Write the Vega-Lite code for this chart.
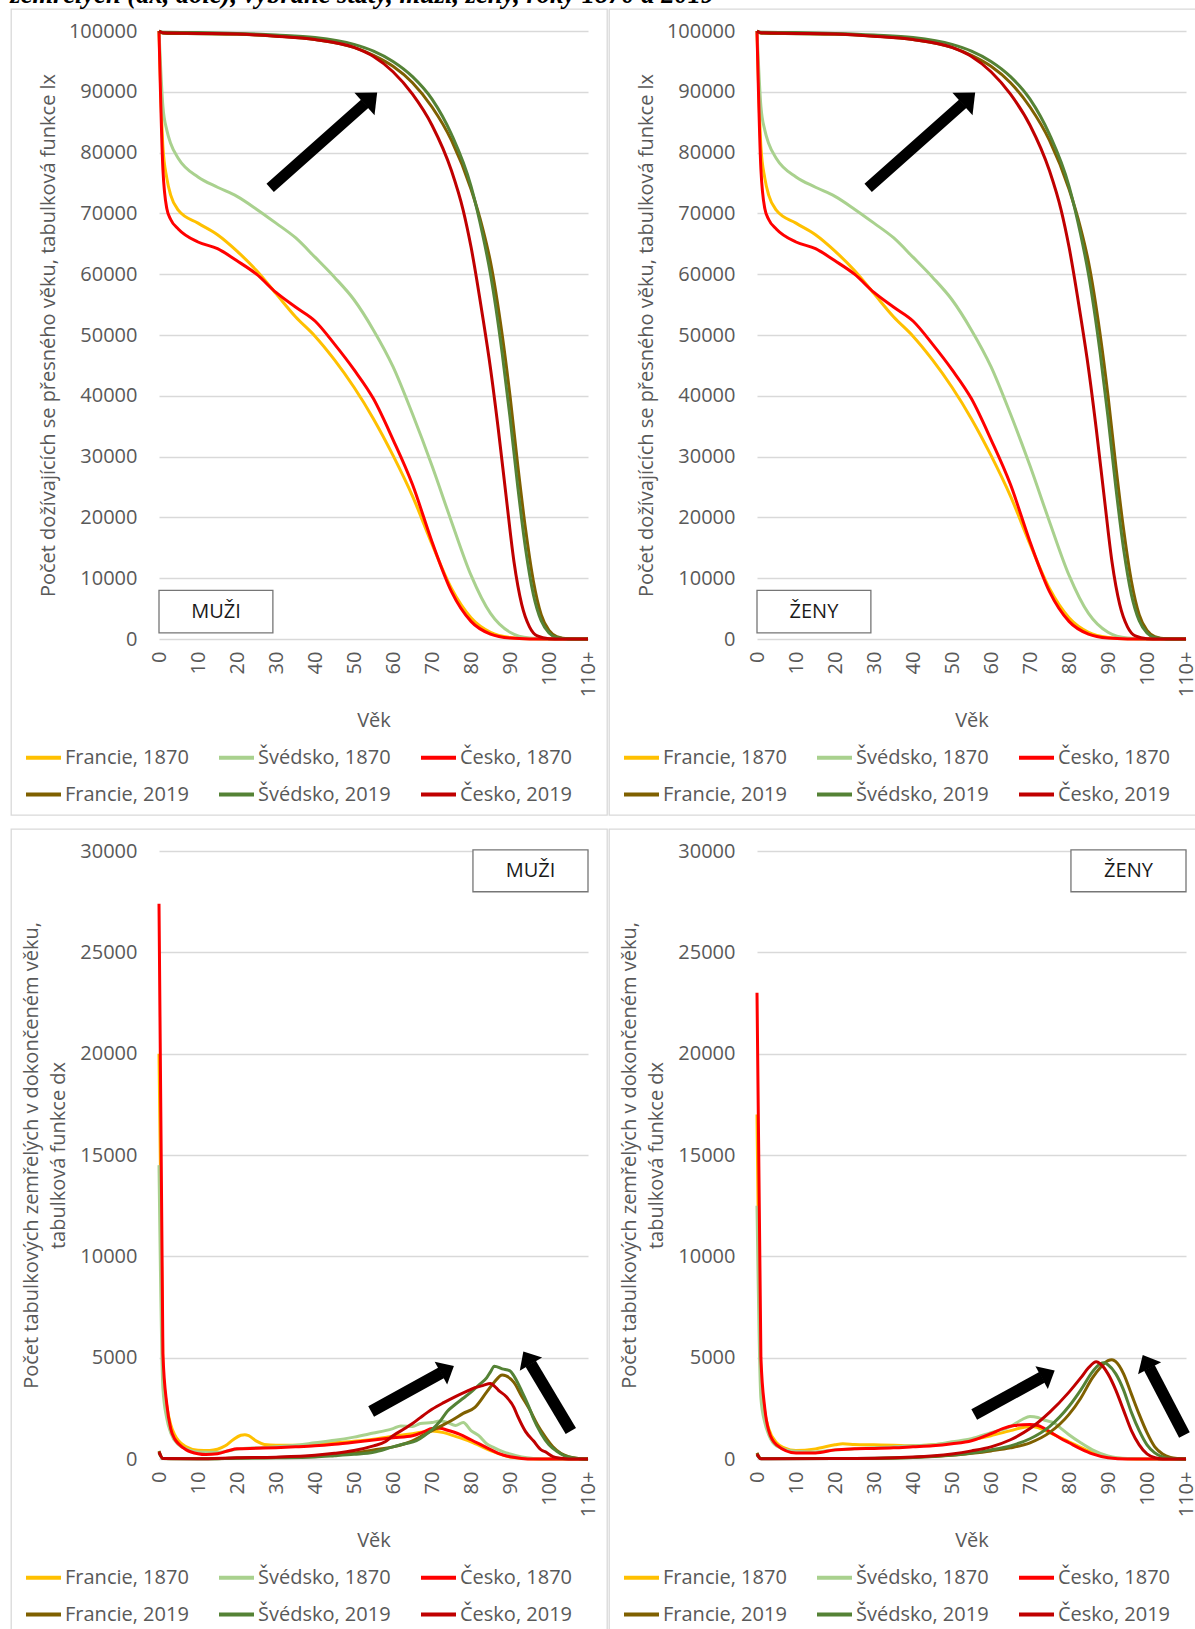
{
"$schema": "https://vega.github.io/schema/vega-lite/v6.json",
"padding": {"left": 10, "top": -18, "right": -2, "bottom": -2},
"title": {"text": "zemřelých (dx, dole), vybrané státy, muži, ženy, roky 1870 a 2019", "anchor": "start", "font": "Liberation Serif", "fontSize": 26.5, "fontStyle": "italic", "fontWeight": "bold", "color": "#000000", "offset": -21.5, "baseline": "alphabetic"},
"config": {
  "font": "Open Sans",
  "view": {"stroke": "#d9d9d9", "strokeWidth": 1.3},
  "axis": {"labelFont": "Open Sans", "labelFontSize": 20, "labelColor": "#595959", "titleFont": "Open Sans", "titleFontSize": 20, "titleColor": "#595959", "titleFontWeight": "normal", "ticks": false, "domain": false, "labelOverlap": false, "labelBound": false, "labelFlush": false},
  "axisX": {"grid": false, "labelAngle": 270, "labelPadding": 12, "titleBaseline": "middle"},
  "axisY": {"grid": true, "gridColor": "#d9d9d9", "gridWidth": 1.3, "labelPadding": 22, "format": "d", "titleBaseline": "middle", "titleLineHeight": 27},
  "legend": {"columns": 3, "symbolType": "stroke", "symbolSize": 1225, "symbolStrokeWidth": 4, "labelFont": "Open Sans", "labelFontSize": 20, "labelColor": "#595959", "labelOffset": 2, "columnPadding": 22, "rowPadding": 7, "padding": 0, "labelLimit": 400}
},
"datasets": {
"lx": [
{"s":"Francie, 1870","age":0,"v":100000},{"s":"Francie, 1870","age":1,"v":81000},{"s":"Francie, 1870","age":2,"v":75800},{"s":"Francie, 1870","age":3,"v":73000},{"s":"Francie, 1870","age":5,"v":70500},{"s":"Francie, 1870","age":10,"v":68400},{"s":"Francie, 1870","age":15,"v":66500},{"s":"Francie, 1870","age":20,"v":63800},{"s":"Francie, 1870","age":25,"v":60600},{"s":"Francie, 1870","age":30,"v":56800},{"s":"Francie, 1870","age":35,"v":53000},{"s":"Francie, 1870","age":40,"v":49800},{"s":"Francie, 1870","age":45,"v":45900},{"s":"Francie, 1870","age":50,"v":41400},{"s":"Francie, 1870","age":55,"v":36200},{"s":"Francie, 1870","age":60,"v":30200},{"s":"Francie, 1870","age":65,"v":23500},{"s":"Francie, 1870","age":70,"v":15600},{"s":"Francie, 1870","age":75,"v":8300},{"s":"Francie, 1870","age":80,"v":3500},{"s":"Francie, 1870","age":85,"v":1100},{"s":"Francie, 1870","age":90,"v":250},{"s":"Francie, 1870","age":95,"v":30},{"s":"Francie, 1870","age":100,"v":0},{"s":"Francie, 1870","age":110,"v":0},
{"s":"Švédsko, 1870","age":0,"v":100000},{"s":"Švédsko, 1870","age":1,"v":87600},{"s":"Švédsko, 1870","age":2,"v":83700},{"s":"Švédsko, 1870","age":3,"v":81500},{"s":"Švédsko, 1870","age":5,"v":79000},{"s":"Švédsko, 1870","age":10,"v":76000},{"s":"Švédsko, 1870","age":15,"v":74300},{"s":"Švédsko, 1870","age":20,"v":72800},{"s":"Švédsko, 1870","age":25,"v":70700},{"s":"Švédsko, 1870","age":30,"v":68400},{"s":"Švédsko, 1870","age":35,"v":66000},{"s":"Švédsko, 1870","age":40,"v":62800},{"s":"Švédsko, 1870","age":45,"v":59500},{"s":"Švédsko, 1870","age":50,"v":55800},{"s":"Švédsko, 1870","age":55,"v":50800},{"s":"Švédsko, 1870","age":60,"v":44800},{"s":"Švédsko, 1870","age":65,"v":37000},{"s":"Švédsko, 1870","age":70,"v":28500},{"s":"Švédsko, 1870","age":75,"v":19300},{"s":"Švédsko, 1870","age":80,"v":10500},{"s":"Švédsko, 1870","age":85,"v":4200},{"s":"Švédsko, 1870","age":90,"v":1100},{"s":"Švédsko, 1870","age":95,"v":150},{"s":"Švédsko, 1870","age":100,"v":0},{"s":"Švédsko, 1870","age":110,"v":0},
{"s":"Česko, 1870","age":0,"v":100000},{"s":"Česko, 1870","age":1,"v":77300},{"s":"Česko, 1870","age":2,"v":70800},{"s":"Česko, 1870","age":3,"v":69000},{"s":"Česko, 1870","age":5,"v":67400},{"s":"Česko, 1870","age":10,"v":65300},{"s":"Česko, 1870","age":15,"v":64200},{"s":"Česko, 1870","age":20,"v":62200},{"s":"Česko, 1870","age":25,"v":60000},{"s":"Česko, 1870","age":30,"v":57000},{"s":"Česko, 1870","age":35,"v":54600},{"s":"Česko, 1870","age":40,"v":52300},{"s":"Česko, 1870","age":45,"v":48500},{"s":"Česko, 1870","age":50,"v":44300},{"s":"Česko, 1870","age":55,"v":39500},{"s":"Česko, 1870","age":60,"v":32800},{"s":"Česko, 1870","age":65,"v":25400},{"s":"Česko, 1870","age":70,"v":16000},{"s":"Česko, 1870","age":75,"v":7800},{"s":"Česko, 1870","age":80,"v":2900},{"s":"Česko, 1870","age":85,"v":800},{"s":"Česko, 1870","age":90,"v":150},{"s":"Česko, 1870","age":95,"v":10},{"s":"Česko, 1870","age":100,"v":0},{"s":"Česko, 1870","age":110,"v":0},
{"s":"Francie, 2019","age":0,"v":100000},{"s":"Francie, 2019","age":1,"v":99650},{"s":"Francie, 2019","age":10,"v":99550},{"s":"Francie, 2019","age":20,"v":99450},{"s":"Francie, 2019","age":30,"v":99150},{"s":"Francie, 2019","age":40,"v":98600},{"s":"Francie, 2019","age":50,"v":97300},{"s":"Francie, 2019","age":55,"v":96000},{"s":"Francie, 2019","age":60,"v":94200},{"s":"Francie, 2019","age":65,"v":91500},{"s":"Francie, 2019","age":70,"v":87500},{"s":"Francie, 2019","age":75,"v":82000},{"s":"Francie, 2019","age":80,"v":74000},{"s":"Francie, 2019","age":83,"v":67500},{"s":"Francie, 2019","age":85,"v":62000},{"s":"Francie, 2019","age":88,"v":50000},{"s":"Francie, 2019","age":90,"v":40000},{"s":"Francie, 2019","age":92,"v":28500},{"s":"Francie, 2019","age":94,"v":18000},{"s":"Francie, 2019","age":96,"v":9500},{"s":"Francie, 2019","age":98,"v":4000},{"s":"Francie, 2019","age":100,"v":1400},{"s":"Francie, 2019","age":102,"v":400},{"s":"Francie, 2019","age":105,"v":50},{"s":"Francie, 2019","age":110,"v":0},
{"s":"Švédsko, 2019","age":0,"v":100000},{"s":"Švédsko, 2019","age":1,"v":99800},{"s":"Švédsko, 2019","age":10,"v":99750},{"s":"Švédsko, 2019","age":20,"v":99600},{"s":"Švédsko, 2019","age":30,"v":99350},{"s":"Švédsko, 2019","age":40,"v":98950},{"s":"Švédsko, 2019","age":50,"v":97800},{"s":"Švédsko, 2019","age":55,"v":96700},{"s":"Švédsko, 2019","age":60,"v":95000},{"s":"Švédsko, 2019","age":65,"v":92500},{"s":"Švédsko, 2019","age":70,"v":88800},{"s":"Švédsko, 2019","age":75,"v":83000},{"s":"Švédsko, 2019","age":80,"v":74500},{"s":"Švédsko, 2019","age":83,"v":66500},{"s":"Švédsko, 2019","age":85,"v":60000},{"s":"Švédsko, 2019","age":88,"v":47000},{"s":"Švédsko, 2019","age":90,"v":36500},{"s":"Švédsko, 2019","age":92,"v":25000},{"s":"Švédsko, 2019","age":94,"v":14800},{"s":"Švédsko, 2019","age":96,"v":7300},{"s":"Švédsko, 2019","age":98,"v":3000},{"s":"Švédsko, 2019","age":100,"v":1000},{"s":"Švédsko, 2019","age":102,"v":250},{"s":"Švédsko, 2019","age":105,"v":20},{"s":"Švédsko, 2019","age":110,"v":0},
{"s":"Česko, 2019","age":0,"v":100000},{"s":"Česko, 2019","age":1,"v":99700},{"s":"Česko, 2019","age":10,"v":99600},{"s":"Česko, 2019","age":20,"v":99500},{"s":"Česko, 2019","age":30,"v":99150},{"s":"Česko, 2019","age":40,"v":98600},{"s":"Česko, 2019","age":50,"v":97300},{"s":"Česko, 2019","age":55,"v":95800},{"s":"Česko, 2019","age":60,"v":93300},{"s":"Česko, 2019","age":65,"v":89600},{"s":"Česko, 2019","age":70,"v":84500},{"s":"Česko, 2019","age":75,"v":77000},{"s":"Česko, 2019","age":78,"v":70500},{"s":"Česko, 2019","age":80,"v":64500},{"s":"Česko, 2019","age":83,"v":53000},{"s":"Česko, 2019","age":85,"v":44500},{"s":"Česko, 2019","age":87,"v":34500},{"s":"Česko, 2019","age":89,"v":23500},{"s":"Česko, 2019","age":91,"v":12800},{"s":"Česko, 2019","age":93,"v":5700},{"s":"Česko, 2019","age":95,"v":2000},{"s":"Česko, 2019","age":97,"v":500},{"s":"Česko, 2019","age":100,"v":50},{"s":"Česko, 2019","age":103,"v":0},{"s":"Česko, 2019","age":110,"v":0}
],
"dxm": [
{"s":"Francie, 1870","age":0,"v":20000},{"s":"Francie, 1870","age":1,"v":4500},{"s":"Francie, 1870","age":2,"v":2600},{"s":"Francie, 1870","age":3,"v":1700},{"s":"Francie, 1870","age":4,"v":1200},{"s":"Francie, 1870","age":5,"v":900},{"s":"Francie, 1870","age":7,"v":600},{"s":"Francie, 1870","age":10,"v":430},{"s":"Francie, 1870","age":13,"v":420},{"s":"Francie, 1870","age":15,"v":480},{"s":"Francie, 1870","age":17,"v":650},{"s":"Francie, 1870","age":19,"v":950},{"s":"Francie, 1870","age":21,"v":1170},{"s":"Francie, 1870","age":22,"v":1200},{"s":"Francie, 1870","age":23,"v":1150},{"s":"Francie, 1870","age":25,"v":880},{"s":"Francie, 1870","age":27,"v":720},{"s":"Francie, 1870","age":30,"v":680},{"s":"Francie, 1870","age":35,"v":680},{"s":"Francie, 1870","age":40,"v":720},{"s":"Francie, 1870","age":45,"v":800},{"s":"Francie, 1870","age":50,"v":880},{"s":"Francie, 1870","age":55,"v":980},{"s":"Francie, 1870","age":60,"v":1120},{"s":"Francie, 1870","age":65,"v":1250},{"s":"Francie, 1870","age":70,"v":1380},{"s":"Francie, 1870","age":73,"v":1300},{"s":"Francie, 1870","age":76,"v":1120},{"s":"Francie, 1870","age":80,"v":850},{"s":"Francie, 1870","age":85,"v":420},{"s":"Francie, 1870","age":90,"v":100},{"s":"Francie, 1870","age":95,"v":15},{"s":"Francie, 1870","age":100,"v":0},{"s":"Francie, 1870","age":110,"v":0},
{"s":"Švédsko, 1870","age":0,"v":14500},{"s":"Švédsko, 1870","age":1,"v":3500},{"s":"Švédsko, 1870","age":2,"v":2000},{"s":"Švédsko, 1870","age":3,"v":1300},{"s":"Švédsko, 1870","age":5,"v":700},{"s":"Švédsko, 1870","age":7,"v":500},{"s":"Švédsko, 1870","age":10,"v":350},{"s":"Švédsko, 1870","age":15,"v":330},{"s":"Švédsko, 1870","age":20,"v":480},{"s":"Švédsko, 1870","age":25,"v":550},{"s":"Švédsko, 1870","age":30,"v":600},{"s":"Švédsko, 1870","age":35,"v":680},{"s":"Švédsko, 1870","age":40,"v":800},{"s":"Švédsko, 1870","age":45,"v":920},{"s":"Švédsko, 1870","age":50,"v":1080},{"s":"Švédsko, 1870","age":55,"v":1280},{"s":"Švédsko, 1870","age":58,"v":1400},{"s":"Švédsko, 1870","age":60,"v":1500},{"s":"Švédsko, 1870","age":62,"v":1630},{"s":"Švédsko, 1870","age":65,"v":1600},{"s":"Švédsko, 1870","age":67,"v":1750},{"s":"Švédsko, 1870","age":70,"v":1800},{"s":"Švédsko, 1870","age":72,"v":1870},{"s":"Švédsko, 1870","age":74,"v":1800},{"s":"Švédsko, 1870","age":76,"v":1650},{"s":"Švédsko, 1870","age":78,"v":1800},{"s":"Švédsko, 1870","age":80,"v":1400},{"s":"Švédsko, 1870","age":82,"v":1150},{"s":"Švédsko, 1870","age":84,"v":750},{"s":"Švédsko, 1870","age":86,"v":550},{"s":"Švédsko, 1870","age":88,"v":380},{"s":"Švédsko, 1870","age":90,"v":250},{"s":"Švédsko, 1870","age":93,"v":100},{"s":"Švédsko, 1870","age":96,"v":30},{"s":"Švédsko, 1870","age":100,"v":0},{"s":"Švédsko, 1870","age":110,"v":0},
{"s":"Česko, 1870","age":0,"v":27400},{"s":"Česko, 1870","age":1,"v":5200},{"s":"Česko, 1870","age":2,"v":2700},{"s":"Česko, 1870","age":3,"v":1500},{"s":"Česko, 1870","age":4,"v":1000},{"s":"Česko, 1870","age":5,"v":750},{"s":"Česko, 1870","age":7,"v":450},{"s":"Česko, 1870","age":10,"v":260},{"s":"Česko, 1870","age":12,"v":220},{"s":"Česko, 1870","age":15,"v":260},{"s":"Česko, 1870","age":18,"v":420},{"s":"Česko, 1870","age":20,"v":500},{"s":"Česko, 1870","age":25,"v":530},{"s":"Česko, 1870","age":30,"v":560},{"s":"Česko, 1870","age":35,"v":600},{"s":"Česko, 1870","age":40,"v":650},{"s":"Česko, 1870","age":45,"v":730},{"s":"Česko, 1870","age":50,"v":830},{"s":"Česko, 1870","age":55,"v":940},{"s":"Česko, 1870","age":60,"v":1050},{"s":"Česko, 1870","age":65,"v":1150},{"s":"Česko, 1870","age":68,"v":1350},{"s":"Česko, 1870","age":70,"v":1500},{"s":"Česko, 1870","age":72,"v":1520},{"s":"Česko, 1870","age":74,"v":1420},{"s":"Česko, 1870","age":77,"v":1230},{"s":"Česko, 1870","age":80,"v":950},{"s":"Česko, 1870","age":84,"v":560},{"s":"Česko, 1870","age":87,"v":280},{"s":"Česko, 1870","age":90,"v":110},{"s":"Česko, 1870","age":93,"v":30},{"s":"Česko, 1870","age":96,"v":0},{"s":"Česko, 1870","age":110,"v":0},
{"s":"Francie, 2019","age":0,"v":400},{"s":"Francie, 2019","age":1,"v":30},{"s":"Francie, 2019","age":5,"v":10},{"s":"Francie, 2019","age":10,"v":10},{"s":"Francie, 2019","age":15,"v":15},{"s":"Francie, 2019","age":20,"v":45},{"s":"Francie, 2019","age":25,"v":60},{"s":"Francie, 2019","age":30,"v":70},{"s":"Francie, 2019","age":35,"v":100},{"s":"Francie, 2019","age":40,"v":150},{"s":"Francie, 2019","age":45,"v":220},{"s":"Francie, 2019","age":50,"v":300},{"s":"Francie, 2019","age":55,"v":450},{"s":"Francie, 2019","age":60,"v":600},{"s":"Francie, 2019","age":65,"v":900},{"s":"Francie, 2019","age":68,"v":1200},{"s":"Francie, 2019","age":70,"v":1400},{"s":"Francie, 2019","age":72,"v":1600},{"s":"Francie, 2019","age":75,"v":1900},{"s":"Francie, 2019","age":78,"v":2250},{"s":"Francie, 2019","age":81,"v":2550},{"s":"Francie, 2019","age":84,"v":3300},{"s":"Francie, 2019","age":86,"v":3800},{"s":"Francie, 2019","age":88,"v":4150},{"s":"Francie, 2019","age":89,"v":4100},{"s":"Francie, 2019","age":91,"v":3780},{"s":"Francie, 2019","age":93,"v":3100},{"s":"Francie, 2019","age":95,"v":2450},{"s":"Francie, 2019","age":97,"v":1700},{"s":"Francie, 2019","age":99,"v":1100},{"s":"Francie, 2019","age":101,"v":600},{"s":"Francie, 2019","age":103,"v":280},{"s":"Francie, 2019","age":105,"v":120},{"s":"Francie, 2019","age":107,"v":40},{"s":"Francie, 2019","age":110,"v":0},
{"s":"Švédsko, 2019","age":0,"v":300},{"s":"Švédsko, 2019","age":1,"v":20},{"s":"Švédsko, 2019","age":10,"v":10},{"s":"Švédsko, 2019","age":20,"v":40},{"s":"Švédsko, 2019","age":30,"v":60},{"s":"Švédsko, 2019","age":40,"v":100},{"s":"Švédsko, 2019","age":45,"v":160},{"s":"Švédsko, 2019","age":50,"v":230},{"s":"Švédsko, 2019","age":55,"v":330},{"s":"Švédsko, 2019","age":60,"v":600},{"s":"Švédsko, 2019","age":63,"v":750},{"s":"Švédsko, 2019","age":66,"v":900},{"s":"Švédsko, 2019","age":68,"v":1150},{"s":"Švédsko, 2019","age":70,"v":1450},{"s":"Švédsko, 2019","age":72,"v":1850},{"s":"Švédsko, 2019","age":74,"v":2370},{"s":"Švédsko, 2019","age":76,"v":2700},{"s":"Švédsko, 2019","age":78,"v":3000},{"s":"Švédsko, 2019","age":80,"v":3300},{"s":"Švédsko, 2019","age":82,"v":3650},{"s":"Švédsko, 2019","age":84,"v":4000},{"s":"Švédsko, 2019","age":85,"v":4300},{"s":"Švédsko, 2019","age":86,"v":4580},{"s":"Švédsko, 2019","age":88,"v":4450},{"s":"Švédsko, 2019","age":90,"v":4350},{"s":"Švédsko, 2019","age":91,"v":4100},{"s":"Švédsko, 2019","age":93,"v":3350},{"s":"Švédsko, 2019","age":95,"v":2500},{"s":"Švédsko, 2019","age":96,"v":2000},{"s":"Švédsko, 2019","age":98,"v":1250},{"s":"Švédsko, 2019","age":100,"v":700},{"s":"Švédsko, 2019","age":102,"v":380},{"s":"Švédsko, 2019","age":104,"v":150},{"s":"Švédsko, 2019","age":106,"v":60},{"s":"Švédsko, 2019","age":108,"v":15},{"s":"Švédsko, 2019","age":110,"v":0},
{"s":"Česko, 2019","age":0,"v":350},{"s":"Česko, 2019","age":1,"v":25},{"s":"Česko, 2019","age":10,"v":15},{"s":"Česko, 2019","age":20,"v":60},{"s":"Česko, 2019","age":30,"v":90},{"s":"Česko, 2019","age":40,"v":180},{"s":"Česko, 2019","age":45,"v":280},{"s":"Česko, 2019","age":50,"v":420},{"s":"Česko, 2019","age":55,"v":650},{"s":"Česko, 2019","age":58,"v":850},{"s":"Česko, 2019","age":60,"v":1150},{"s":"Česko, 2019","age":63,"v":1500},{"s":"Česko, 2019","age":65,"v":1750},{"s":"Česko, 2019","age":67,"v":2040},{"s":"Česko, 2019","age":70,"v":2450},{"s":"Česko, 2019","age":73,"v":2780},{"s":"Česko, 2019","age":76,"v":3080},{"s":"Česko, 2019","age":79,"v":3350},{"s":"Česko, 2019","age":81,"v":3520},{"s":"Česko, 2019","age":83,"v":3620},{"s":"Česko, 2019","age":85,"v":3730},{"s":"Česko, 2019","age":86,"v":3600},{"s":"Česko, 2019","age":87,"v":3400},{"s":"Česko, 2019","age":89,"v":3080},{"s":"Česko, 2019","age":91,"v":2550},{"s":"Česko, 2019","age":92,"v":2100},{"s":"Česko, 2019","age":94,"v":1350},{"s":"Česko, 2019","age":96,"v":900},{"s":"Česko, 2019","age":98,"v":450},{"s":"Česko, 2019","age":99,"v":360},{"s":"Česko, 2019","age":101,"v":120},{"s":"Česko, 2019","age":103,"v":40},{"s":"Česko, 2019","age":105,"v":0},{"s":"Česko, 2019","age":110,"v":0}
],
"dxf": [
{"s":"Francie, 1870","age":0,"v":17000},{"s":"Francie, 1870","age":1,"v":4200},{"s":"Francie, 1870","age":2,"v":2300},{"s":"Francie, 1870","age":3,"v":1500},{"s":"Francie, 1870","age":5,"v":800},{"s":"Francie, 1870","age":7,"v":550},{"s":"Francie, 1870","age":10,"v":420},{"s":"Francie, 1870","age":15,"v":500},{"s":"Francie, 1870","age":20,"v":700},{"s":"Francie, 1870","age":22,"v":750},{"s":"Francie, 1870","age":25,"v":720},{"s":"Francie, 1870","age":30,"v":700},{"s":"Francie, 1870","age":35,"v":680},{"s":"Francie, 1870","age":40,"v":650},{"s":"Francie, 1870","age":45,"v":700},{"s":"Francie, 1870","age":50,"v":800},{"s":"Francie, 1870","age":55,"v":950},{"s":"Francie, 1870","age":60,"v":1150},{"s":"Francie, 1870","age":65,"v":1400},{"s":"Francie, 1870","age":70,"v":1600},{"s":"Francie, 1870","age":72,"v":1550},{"s":"Francie, 1870","age":75,"v":1300},{"s":"Francie, 1870","age":80,"v":850},{"s":"Francie, 1870","age":85,"v":400},{"s":"Francie, 1870","age":90,"v":100},{"s":"Francie, 1870","age":95,"v":10},{"s":"Francie, 1870","age":100,"v":0},{"s":"Francie, 1870","age":110,"v":0},
{"s":"Švédsko, 1870","age":0,"v":12500},{"s":"Švédsko, 1870","age":1,"v":3000},{"s":"Švédsko, 1870","age":2,"v":1800},{"s":"Švédsko, 1870","age":3,"v":1200},{"s":"Švédsko, 1870","age":5,"v":650},{"s":"Švédsko, 1870","age":10,"v":380},{"s":"Švédsko, 1870","age":15,"v":350},{"s":"Švédsko, 1870","age":20,"v":450},{"s":"Švédsko, 1870","age":25,"v":500},{"s":"Švédsko, 1870","age":30,"v":550},{"s":"Švédsko, 1870","age":35,"v":600},{"s":"Švédsko, 1870","age":40,"v":650},{"s":"Švédsko, 1870","age":45,"v":700},{"s":"Švédsko, 1870","age":50,"v":850},{"s":"Švédsko, 1870","age":55,"v":1000},{"s":"Švédsko, 1870","age":60,"v":1300},{"s":"Švédsko, 1870","age":65,"v":1600},{"s":"Švédsko, 1870","age":68,"v":1950},{"s":"Švédsko, 1870","age":70,"v":2100},{"s":"Švédsko, 1870","age":72,"v":2050},{"s":"Švédsko, 1870","age":74,"v":1900},{"s":"Švédsko, 1870","age":76,"v":1800},{"s":"Švédsko, 1870","age":78,"v":1500},{"s":"Švédsko, 1870","age":80,"v":1200},{"s":"Švédsko, 1870","age":83,"v":800},{"s":"Švédsko, 1870","age":86,"v":450},{"s":"Švédsko, 1870","age":90,"v":150},{"s":"Švédsko, 1870","age":95,"v":20},{"s":"Švédsko, 1870","age":100,"v":0},{"s":"Švédsko, 1870","age":110,"v":0},
{"s":"Česko, 1870","age":0,"v":23000},{"s":"Česko, 1870","age":1,"v":5000},{"s":"Česko, 1870","age":2,"v":2500},{"s":"Česko, 1870","age":3,"v":1400},{"s":"Česko, 1870","age":5,"v":700},{"s":"Česko, 1870","age":10,"v":300},{"s":"Česko, 1870","age":15,"v":300},{"s":"Česko, 1870","age":20,"v":450},{"s":"Česko, 1870","age":25,"v":500},{"s":"Česko, 1870","age":30,"v":520},{"s":"Česko, 1870","age":35,"v":550},{"s":"Česko, 1870","age":40,"v":600},{"s":"Česko, 1870","age":45,"v":650},{"s":"Česko, 1870","age":50,"v":750},{"s":"Česko, 1870","age":55,"v":900},{"s":"Česko, 1870","age":60,"v":1250},{"s":"Česko, 1870","age":63,"v":1500},{"s":"Česko, 1870","age":66,"v":1650},{"s":"Česko, 1870","age":70,"v":1700},{"s":"Česko, 1870","age":72,"v":1650},{"s":"Česko, 1870","age":75,"v":1350},{"s":"Česko, 1870","age":78,"v":1000},{"s":"Česko, 1870","age":80,"v":800},{"s":"Česko, 1870","age":83,"v":500},{"s":"Česko, 1870","age":86,"v":250},{"s":"Česko, 1870","age":90,"v":60},{"s":"Česko, 1870","age":95,"v":0},{"s":"Česko, 1870","age":110,"v":0},
{"s":"Francie, 2019","age":0,"v":300},{"s":"Francie, 2019","age":1,"v":20},{"s":"Francie, 2019","age":20,"v":20},{"s":"Francie, 2019","age":40,"v":80},{"s":"Francie, 2019","age":50,"v":180},{"s":"Francie, 2019","age":55,"v":280},{"s":"Francie, 2019","age":60,"v":400},{"s":"Francie, 2019","age":65,"v":550},{"s":"Francie, 2019","age":70,"v":800},{"s":"Francie, 2019","age":75,"v":1300},{"s":"Francie, 2019","age":80,"v":2200},{"s":"Francie, 2019","age":83,"v":3000},{"s":"Francie, 2019","age":86,"v":4000},{"s":"Francie, 2019","age":88,"v":4500},{"s":"Francie, 2019","age":90,"v":4850},{"s":"Francie, 2019","age":91,"v":4900},{"s":"Francie, 2019","age":92,"v":4800},{"s":"Francie, 2019","age":94,"v":4200},{"s":"Francie, 2019","age":96,"v":3200},{"s":"Francie, 2019","age":98,"v":2200},{"s":"Francie, 2019","age":100,"v":1300},{"s":"Francie, 2019","age":102,"v":600},{"s":"Francie, 2019","age":104,"v":250},{"s":"Francie, 2019","age":106,"v":80},{"s":"Francie, 2019","age":108,"v":20},{"s":"Francie, 2019","age":110,"v":0},
{"s":"Švédsko, 2019","age":0,"v":200},{"s":"Švédsko, 2019","age":1,"v":15},{"s":"Švédsko, 2019","age":20,"v":20},{"s":"Švédsko, 2019","age":40,"v":80},{"s":"Švédsko, 2019","age":50,"v":200},{"s":"Švédsko, 2019","age":55,"v":300},{"s":"Švédsko, 2019","age":60,"v":450},{"s":"Švédsko, 2019","age":65,"v":650},{"s":"Švédsko, 2019","age":70,"v":1000},{"s":"Švédsko, 2019","age":75,"v":1600},{"s":"Švédsko, 2019","age":80,"v":2600},{"s":"Švédsko, 2019","age":83,"v":3400},{"s":"Švédsko, 2019","age":86,"v":4300},{"s":"Švédsko, 2019","age":88,"v":4700},{"s":"Švédsko, 2019","age":89,"v":4750},{"s":"Švédsko, 2019","age":90,"v":4650},{"s":"Švédsko, 2019","age":92,"v":4200},{"s":"Švédsko, 2019","age":94,"v":3400},{"s":"Švédsko, 2019","age":96,"v":2300},{"s":"Švédsko, 2019","age":98,"v":1400},{"s":"Švédsko, 2019","age":100,"v":700},{"s":"Švédsko, 2019","age":102,"v":300},{"s":"Švédsko, 2019","age":104,"v":100},{"s":"Švédsko, 2019","age":106,"v":20},{"s":"Švédsko, 2019","age":108,"v":0},{"s":"Švédsko, 2019","age":110,"v":0},
{"s":"Česko, 2019","age":0,"v":250},{"s":"Česko, 2019","age":1,"v":15},{"s":"Česko, 2019","age":20,"v":20},{"s":"Česko, 2019","age":40,"v":100},{"s":"Česko, 2019","age":50,"v":250},{"s":"Česko, 2019","age":55,"v":400},{"s":"Česko, 2019","age":60,"v":600},{"s":"Česko, 2019","age":65,"v":950},{"s":"Česko, 2019","age":70,"v":1500},{"s":"Česko, 2019","age":75,"v":2300},{"s":"Česko, 2019","age":80,"v":3300},{"s":"Česko, 2019","age":83,"v":4000},{"s":"Česko, 2019","age":85,"v":4500},{"s":"Česko, 2019","age":87,"v":4800},{"s":"Česko, 2019","age":88,"v":4700},{"s":"Česko, 2019","age":90,"v":4200},{"s":"Česko, 2019","age":92,"v":3400},{"s":"Česko, 2019","age":94,"v":2400},{"s":"Česko, 2019","age":96,"v":1400},{"s":"Česko, 2019","age":98,"v":700},{"s":"Česko, 2019","age":100,"v":250},{"s":"Česko, 2019","age":102,"v":60},{"s":"Česko, 2019","age":104,"v":0},{"s":"Česko, 2019","age":110,"v":0}
]
},
"spacing": 12,
"resolve": {"scale": {"color": "independent", "x": "independent", "y": "independent"}, "legend": {"color": "independent"}},
"vconcat": [
{
"spacing": 0,
"resolve": {"scale": {"color": "independent", "x": "independent", "y": "independent"}, "legend": {"color": "independent"}},
"hconcat": [
{
"width": 596, "height": 806,
"layer": [
{"data": {"name": "lx"}, "mark": {"type": "line", "strokeWidth": 3, "interpolate": "monotone"},
 "encoding": {
  "x": {"field": "age", "type": "quantitative", "scale": {"domain": [0, 110], "range": [148, 577], "nice": false, "zero": false}, "axis": {"title": "Věk", "values": [0,10,20,30,40,50,60,70,80,90,100,110], "labelExpr": "datum.value == 110 ? '110+' : datum.label", "offset": -176, "titleY": 81}},
  "y": {"field": "v", "type": "quantitative", "scale": {"domain": [0, 100000], "range": [630, 22], "nice": false}, "axis": {"title": "Počet dožívajících se přesného věku, tabulková funkce lx", "values": [0,10000,20000,30000,40000,50000,60000,70000,80000,90000,100000], "offset": -148, "titleX": -111}},
  "color": {"field": "s", "type": "nominal", "scale": {"domain": ["Francie, 1870","Francie, 2019","Švédsko, 1870","Švédsko, 2019","Česko, 1870","Česko, 2019"], "range": ["#FFC000","#7F6000","#A9D18E","#548235","#FF0000","#C00000"]}, "legend": {"title": null, "orient": "none", "legendX": 13, "legendY": 729}}
 }},
{"data": {"values": [{"age": 0, "age2": 29.2, "v": 1000, "v2": 8000}]}, "mark": {"type": "rect", "fill": "#ffffff", "stroke": "#767676", "strokeWidth": 1.3},
 "encoding": {"x": {"field": "age", "type": "quantitative"}, "x2": {"field": "age2"}, "y": {"field": "v", "type": "quantitative"}, "y2": {"field": "v2"}}},
{"data": {"values": [{"age": 14.6, "v": 4500, "t": "MUŽI"}]}, "mark": {"type": "text", "font": "Open Sans", "fontSize": 20, "color": "#1a1a1a", "align": "center", "baseline": "middle"},
 "encoding": {"x": {"field": "age", "type": "quantitative"}, "y": {"field": "v", "type": "quantitative"}, "text": {"field": "t"}}},
{"data": {"values": [{"age": 28.5, "v": 74200, "age2": 52.8, "v2": 88060}]}, "mark": {"type": "rule", "color": "#000000", "strokeWidth": 11, "strokeCap": "butt"},
 "encoding": {"x": {"field": "age", "type": "quantitative"}, "y": {"field": "v", "type": "quantitative"}, "x2": {"field": "age2"}, "y2": {"field": "v2"}}},
{"data": {"values": [{"age": 52.8, "v": 88060}]}, "mark": {"type": "point", "shape": "M0,-1.1L1,0.04L-1,0.04Z", "size": 900, "angle": 47.9, "filled": true, "color": "#000000", "opacity": 1, "strokeWidth": 0},
 "encoding": {"x": {"field": "age", "type": "quantitative"}, "y": {"field": "v", "type": "quantitative"}}}
]
},
{
"width": 589, "height": 806,
"layer": [
{"data": {"name": "lx"}, "mark": {"type": "line", "strokeWidth": 3, "interpolate": "monotone"},
 "encoding": {
  "x": {"field": "age", "type": "quantitative", "scale": {"domain": [0, 110], "range": [148, 577], "nice": false, "zero": false}, "axis": {"title": "Věk", "values": [0,10,20,30,40,50,60,70,80,90,100,110], "labelExpr": "datum.value == 110 ? '110+' : datum.label", "offset": -176, "titleY": 81}},
  "y": {"field": "v", "type": "quantitative", "scale": {"domain": [0, 100000], "range": [630, 22], "nice": false}, "axis": {"title": "Počet dožívajících se přesného věku, tabulková funkce lx", "values": [0,10000,20000,30000,40000,50000,60000,70000,80000,90000,100000], "offset": -148, "titleX": -111}},
  "color": {"field": "s", "type": "nominal", "scale": {"domain": ["Francie, 1870","Francie, 2019","Švédsko, 1870","Švédsko, 2019","Česko, 1870","Česko, 2019"], "range": ["#FFC000","#7F6000","#A9D18E","#548235","#FF0000","#C00000"]}, "legend": {"title": null, "orient": "none", "legendX": 13, "legendY": 729}}
 }},
{"data": {"values": [{"age": 0, "age2": 29.2, "v": 1000, "v2": 8000}]}, "mark": {"type": "rect", "fill": "#ffffff", "stroke": "#767676", "strokeWidth": 1.3},
 "encoding": {"x": {"field": "age", "type": "quantitative"}, "x2": {"field": "age2"}, "y": {"field": "v", "type": "quantitative"}, "y2": {"field": "v2"}}},
{"data": {"values": [{"age": 14.6, "v": 4500, "t": "ŽENY"}]}, "mark": {"type": "text", "font": "Open Sans", "fontSize": 20, "color": "#1a1a1a", "align": "center", "baseline": "middle"},
 "encoding": {"x": {"field": "age", "type": "quantitative"}, "y": {"field": "v", "type": "quantitative"}, "text": {"field": "t"}}},
{"data": {"values": [{"age": 28.5, "v": 74200, "age2": 52.8, "v2": 88060}]}, "mark": {"type": "rule", "color": "#000000", "strokeWidth": 11, "strokeCap": "butt"},
 "encoding": {"x": {"field": "age", "type": "quantitative"}, "y": {"field": "v", "type": "quantitative"}, "x2": {"field": "age2"}, "y2": {"field": "v2"}}},
{"data": {"values": [{"age": 52.8, "v": 88060}]}, "mark": {"type": "point", "shape": "M0,-1.1L1,0.04L-1,0.04Z", "size": 900, "angle": 47.9, "filled": true, "color": "#000000", "opacity": 1, "strokeWidth": 0},
 "encoding": {"x": {"field": "age", "type": "quantitative"}, "y": {"field": "v", "type": "quantitative"}}}
]
}
]
},
{
"spacing": 0,
"resolve": {"scale": {"color": "independent", "x": "independent", "y": "independent"}, "legend": {"color": "independent"}},
"hconcat": [
{
"width": 596, "height": 801,
"layer": [
{"data": {"name": "dxm"}, "mark": {"type": "line", "strokeWidth": 3, "interpolate": "monotone"},
 "encoding": {
  "x": {"field": "age", "type": "quantitative", "scale": {"domain": [0, 110], "range": [148, 577], "nice": false, "zero": false}, "axis": {"title": "Věk", "values": [0,10,20,30,40,50,60,70,80,90,100,110], "labelExpr": "datum.value == 110 ? '110+' : datum.label", "offset": -171, "titleY": 81}},
  "y": {"field": "v", "type": "quantitative", "scale": {"domain": [0, 30000], "range": [630, 22], "nice": false}, "axis": {"title": ["Počet tabulkových zemřelých v dokončeném věku,", "tabulková funkce dx"], "values": [0,5000,10000,15000,20000,25000,30000], "offset": -148, "titleX": -128}},
  "color": {"field": "s", "type": "nominal", "scale": {"domain": ["Francie, 1870","Francie, 2019","Švédsko, 1870","Švédsko, 2019","Česko, 1870","Česko, 2019"], "range": ["#FFC000","#7F6000","#A9D18E","#548235","#FF0000","#C00000"]}, "legend": {"title": null, "orient": "none", "legendX": 13, "legendY": 729}}
 }},
{"data": {"values": [{"age": 80.5, "age2": 110, "v": 27990, "v2": 30060}]}, "mark": {"type": "rect", "fill": "#ffffff", "stroke": "#767676", "strokeWidth": 1.3},
 "encoding": {"x": {"field": "age", "type": "quantitative"}, "x2": {"field": "age2"}, "y": {"field": "v", "type": "quantitative"}, "y2": {"field": "v2"}}},
{"data": {"values": [{"age": 95.25, "v": 29025, "t": "MUŽI"}]}, "mark": {"type": "text", "font": "Open Sans", "fontSize": 20, "color": "#1a1a1a", "align": "center", "baseline": "middle"},
 "encoding": {"x": {"field": "age", "type": "quantitative"}, "y": {"field": "v", "type": "quantitative"}, "text": {"field": "t"}}},
{"data": {"values": [{"age": 54.4, "v": 2345, "age2": 72.4, "v2": 4250}, {"age": 105.6, "v": 1380, "age2": 95.3, "v2": 4700}]}, "mark": {"type": "rule", "color": "#000000", "strokeWidth": 12, "strokeCap": "butt"},
 "encoding": {"x": {"field": "age", "type": "quantitative"}, "y": {"field": "v", "type": "quantitative"}, "x2": {"field": "age2"}, "y2": {"field": "v2"}}},
{"data": {"values": [{"age": 72.4, "v": 4250}]}, "mark": {"type": "point", "shape": "M0,-1.1L1,0.04L-1,0.04Z", "size": 676, "angle": 61.3, "filled": true, "color": "#000000", "opacity": 1, "strokeWidth": 0},
 "encoding": {"x": {"field": "age", "type": "quantitative"}, "y": {"field": "v", "type": "quantitative"}}},
{"data": {"values": [{"age": 95.3, "v": 4700}]}, "mark": {"type": "point", "shape": "M0,-1.1L1,0.04L-1,0.04Z", "size": 676, "angle": -30.8, "filled": true, "color": "#000000", "opacity": 1, "strokeWidth": 0},
 "encoding": {"x": {"field": "age", "type": "quantitative"}, "y": {"field": "v", "type": "quantitative"}}}
]
},
{
"width": 589, "height": 801,
"layer": [
{"data": {"name": "dxf"}, "mark": {"type": "line", "strokeWidth": 3, "interpolate": "monotone"},
 "encoding": {
  "x": {"field": "age", "type": "quantitative", "scale": {"domain": [0, 110], "range": [148, 577], "nice": false, "zero": false}, "axis": {"title": "Věk", "values": [0,10,20,30,40,50,60,70,80,90,100,110], "labelExpr": "datum.value == 110 ? '110+' : datum.label", "offset": -171, "titleY": 81}},
  "y": {"field": "v", "type": "quantitative", "scale": {"domain": [0, 30000], "range": [630, 22], "nice": false}, "axis": {"title": ["Počet tabulkových zemřelých v dokončeném věku,", "tabulková funkce dx"], "values": [0,5000,10000,15000,20000,25000,30000], "offset": -148, "titleX": -128}},
  "color": {"field": "s", "type": "nominal", "scale": {"domain": ["Francie, 1870","Francie, 2019","Švédsko, 1870","Švédsko, 2019","Česko, 1870","Česko, 2019"], "range": ["#FFC000","#7F6000","#A9D18E","#548235","#FF0000","#C00000"]}, "legend": {"title": null, "orient": "none", "legendX": 13, "legendY": 729}}
 }},
{"data": {"values": [{"age": 80.5, "age2": 110, "v": 27990, "v2": 30060}]}, "mark": {"type": "rect", "fill": "#ffffff", "stroke": "#767676", "strokeWidth": 1.3},
 "encoding": {"x": {"field": "age", "type": "quantitative"}, "x2": {"field": "age2"}, "y": {"field": "v", "type": "quantitative"}, "y2": {"field": "v2"}}},
{"data": {"values": [{"age": 95.25, "v": 29025, "t": "ŽENY"}]}, "mark": {"type": "text", "font": "Open Sans", "fontSize": 20, "color": "#1a1a1a", "align": "center", "baseline": "middle"},
 "encoding": {"x": {"field": "age", "type": "quantitative"}, "y": {"field": "v", "type": "quantitative"}, "text": {"field": "t"}}},
{"data": {"values": [{"age": 55.7, "v": 2200, "age2": 73.1, "v2": 4030}, {"age": 109.6, "v": 1180, "age2": 100.6, "v2": 4505}]}, "mark": {"type": "rule", "color": "#000000", "strokeWidth": 12, "strokeCap": "butt"},
 "encoding": {"x": {"field": "age", "type": "quantitative"}, "y": {"field": "v", "type": "quantitative"}, "x2": {"field": "age2"}, "y2": {"field": "v2"}}},
{"data": {"values": [{"age": 73.1, "v": 4030}]}, "mark": {"type": "point", "shape": "M0,-1.1L1,0.04L-1,0.04Z", "size": 676, "angle": 61.5, "filled": true, "color": "#000000", "opacity": 1, "strokeWidth": 0},
 "encoding": {"x": {"field": "age", "type": "quantitative"}, "y": {"field": "v", "type": "quantitative"}}},
{"data": {"values": [{"age": 100.6, "v": 4505}]}, "mark": {"type": "point", "shape": "M0,-1.1L1,0.04L-1,0.04Z", "size": 676, "angle": -27.5, "filled": true, "color": "#000000", "opacity": 1, "strokeWidth": 0},
 "encoding": {"x": {"field": "age", "type": "quantitative"}, "y": {"field": "v", "type": "quantitative"}}}
]
}
]
}
]
}
